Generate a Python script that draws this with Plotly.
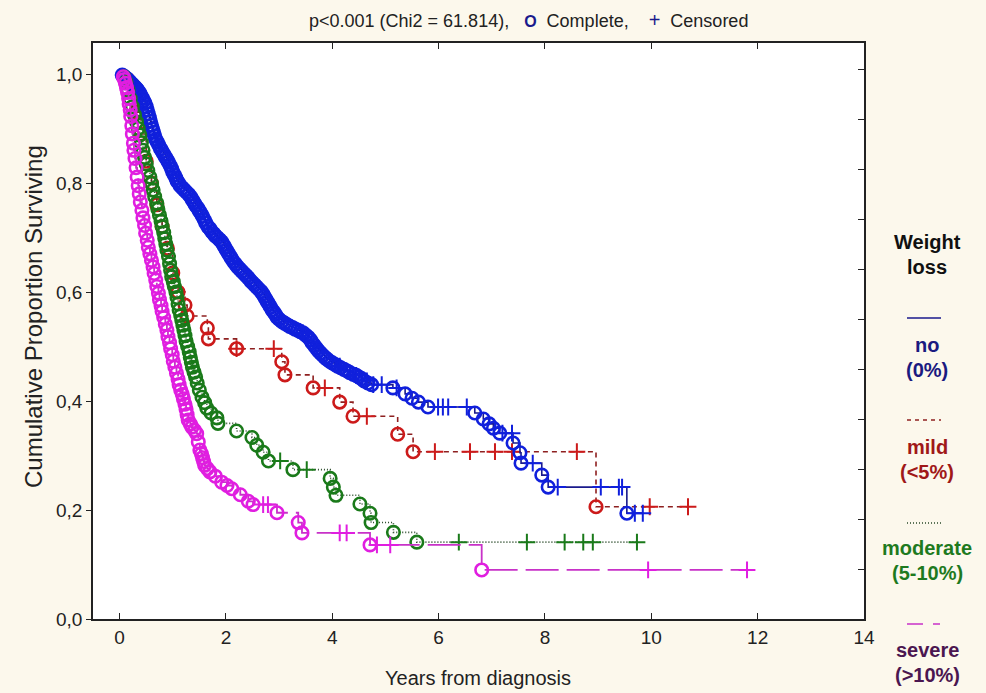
import plotly.graph_objects as go

# ---------------- data ----------------
groups = ["no", "mild", "moderate", "severe"]

no_event_t = [0.05, 0.08, 0.1, 0.13, 0.15, 0.18, 0.2, 0.23, 0.25, 0.28, 0.3, 0.33, 0.35, 0.38, 0.4,
              0.43, 0.45, 0.48, 0.5, 0.52, 0.54, 0.56, 0.58, 0.6, 0.62, 0.64, 0.66, 0.68, 0.71,
              0.74, 0.77, 0.8, 0.83, 0.86, 0.89, 0.92, 0.95, 0.98, 1.0, 1.03, 1.06, 1.08, 1.11,
              1.14, 1.18, 1.22, 1.26, 1.3, 1.34, 1.37, 1.4, 1.43, 1.47, 1.5, 1.53, 1.56, 1.59,
              1.62, 1.66, 1.7, 1.73, 1.77, 1.8, 1.84, 1.88, 1.92, 1.95, 1.98, 2.01, 2.04, 2.07,
              2.1, 2.14, 2.18, 2.22, 2.26, 2.3, 2.34, 2.38, 2.42, 2.46, 2.5, 2.54, 2.58, 2.62,
              2.66, 2.69, 2.72, 2.75, 2.78, 2.81, 2.84, 2.87, 2.9, 2.93, 2.96, 3.0, 3.05, 3.1,
              3.15, 3.2, 3.25, 3.3, 3.35, 3.4, 3.45, 3.5, 3.55, 3.59, 3.62, 3.66, 3.7, 3.74, 3.78,
              3.82, 3.86, 3.9, 3.95, 4.0, 4.05, 4.1, 4.16, 4.22, 4.28, 4.33, 4.4, 4.45, 4.5, 4.55,
              4.6, 4.67, 4.74, 5.14, 5.37, 5.5, 5.62, 5.8, 6.68, 6.84, 6.95, 7.03, 7.15, 7.4, 7.53,
              7.55, 7.94, 8.06, 9.54]
no_event_s = [0.998, 0.996, 0.994, 0.992, 0.99, 0.987, 0.985, 0.982, 0.98, 0.977, 0.975, 0.972,
              0.969, 0.965, 0.961, 0.956, 0.951, 0.946, 0.94, 0.934, 0.927, 0.92, 0.913, 0.906,
              0.899, 0.893, 0.886, 0.88, 0.875, 0.869, 0.863, 0.858, 0.853, 0.848, 0.843, 0.838,
              0.832, 0.826, 0.82, 0.815, 0.809, 0.804, 0.8, 0.795, 0.791, 0.787, 0.783, 0.779,
              0.774, 0.769, 0.764, 0.759, 0.754, 0.749, 0.744, 0.739, 0.733, 0.727, 0.72, 0.716,
              0.711, 0.707, 0.703, 0.7, 0.696, 0.692, 0.687, 0.682, 0.677, 0.672, 0.667, 0.662,
              0.656, 0.651, 0.646, 0.642, 0.638, 0.634, 0.63, 0.626, 0.621, 0.617, 0.613, 0.609,
              0.605, 0.601, 0.597, 0.592, 0.587, 0.582, 0.577, 0.572, 0.567, 0.563, 0.559, 0.554,
              0.55, 0.546, 0.543, 0.54, 0.537, 0.535, 0.532, 0.53, 0.527, 0.525, 0.521, 0.517,
              0.512, 0.507, 0.502, 0.497, 0.492, 0.488, 0.484, 0.48, 0.477, 0.473, 0.47, 0.467,
              0.464, 0.461, 0.458, 0.455, 0.452, 0.449, 0.447, 0.444, 0.441, 0.437, 0.433, 0.43,
              0.424, 0.413, 0.405, 0.398, 0.389, 0.378, 0.367, 0.358, 0.35, 0.341, 0.323, 0.305,
              0.286, 0.264, 0.242, 0.194]
no_censor_t = [3.45, 4.14, 4.45, 4.65, 4.77, 4.93, 5.21, 5.99, 6.08, 6.18, 6.53, 7.2, 7.38, 7.77,
               8.24, 9.05, 9.39, 9.45, 9.69, 9.84]

mild_event_t = [0.15, 0.3, 0.4, 0.5, 0.6, 0.7, 0.8, 0.9, 1.0, 1.1, 1.23, 1.27, 1.65, 1.67, 2.2,
                3.05, 3.11, 3.64, 4.14, 4.39, 5.23, 5.52, 8.96]
mild_event_s = [0.99, 0.93, 0.89, 0.84, 0.80, 0.76, 0.72, 0.68, 0.635, 0.60, 0.576, 0.556, 0.534,
                0.514, 0.496, 0.472, 0.448, 0.424, 0.398, 0.372, 0.339, 0.307, 0.206]
mild_censor_t = [2.2, 2.9, 3.86, 4.65, 5.93, 6.59, 7.06, 7.38, 8.6, 9.97, 10.69]

moderate_event_t = [0.08, 0.12, 0.16, 0.2, 0.24, 0.28, 0.32, 0.35, 0.38, 0.41, 0.44, 0.47, 0.5,
                    0.53, 0.57, 0.6, 0.63, 0.66, 0.7, 0.72, 0.75, 0.78, 0.8, 0.83, 0.85, 0.87,
                    0.89, 0.92, 0.94, 0.96, 0.98, 1.01, 1.03, 1.06, 1.08, 1.1, 1.12, 1.15, 1.17,
                    1.19, 1.21, 1.23, 1.25, 1.28, 1.31, 1.33, 1.35, 1.37, 1.4, 1.43, 1.46, 1.5,
                    1.55, 1.6, 1.64, 1.72, 1.83, 1.85, 2.2, 2.49, 2.58, 2.7, 2.8, 3.26, 3.96, 4.02,
                    4.07, 4.52, 4.71, 4.73, 5.15, 5.59]
moderate_event_s = [0.995, 0.985, 0.97, 0.955, 0.94, 0.925, 0.912, 0.9, 0.888, 0.874, 0.86, 0.847,
                    0.835, 0.823, 0.811, 0.799, 0.787, 0.775, 0.763, 0.752, 0.741, 0.73, 0.72,
                    0.709, 0.698, 0.688, 0.677, 0.665, 0.652, 0.64, 0.628, 0.619, 0.61, 0.6, 0.59,
                    0.578, 0.567, 0.557, 0.548, 0.539, 0.53, 0.52, 0.51, 0.5, 0.49, 0.48, 0.471,
                    0.462, 0.453, 0.444, 0.433, 0.42, 0.407, 0.397, 0.387, 0.378, 0.369, 0.359,
                    0.345, 0.333, 0.319, 0.306, 0.29, 0.274, 0.258, 0.242, 0.227, 0.211, 0.194,
                    0.177, 0.159, 0.141]
moderate_censor_t = [3.02, 3.52, 6.38, 7.66, 8.37, 8.72, 8.9, 9.73]

severe_event_t = [0.07, 0.09, 0.11, 0.13, 0.15, 0.17, 0.18, 0.2, 0.21, 0.23, 0.24, 0.26, 0.27,
                  0.29, 0.31, 0.33, 0.35, 0.37, 0.39, 0.42, 0.44, 0.47, 0.49, 0.52, 0.54, 0.57,
                  0.6, 0.63, 0.65, 0.68, 0.7, 0.73, 0.75, 0.78, 0.8, 0.83, 0.86, 0.89, 0.91, 0.94,
                  0.96, 0.99, 1.01, 1.04, 1.07, 1.1, 1.12, 1.15, 1.18, 1.2, 1.23, 1.25, 1.27, 1.29,
                  1.33, 1.36, 1.41, 1.45, 1.48, 1.51, 1.54, 1.56, 1.58, 1.6, 1.65, 1.7, 1.8, 1.92,
                  2.02, 2.11, 2.27, 2.42, 2.51, 2.96, 3.36, 3.43, 4.71, 6.81]
severe_event_s = [0.995, 0.99, 0.983, 0.975, 0.966, 0.955, 0.945, 0.934, 0.922, 0.905, 0.89,
                  0.873, 0.86, 0.845, 0.828, 0.811, 0.795, 0.78, 0.765, 0.75, 0.736, 0.722,
                  0.708, 0.695, 0.682, 0.67, 0.658, 0.646, 0.634, 0.622, 0.61, 0.598, 0.586,
                  0.575, 0.564, 0.553, 0.541, 0.53, 0.518, 0.507, 0.496, 0.485, 0.473, 0.462,
                  0.451, 0.44, 0.43, 0.42, 0.412, 0.404, 0.394, 0.385, 0.375, 0.365, 0.358, 0.352,
                  0.346, 0.34, 0.325, 0.31, 0.303, 0.296, 0.289, 0.282, 0.276, 0.27, 0.262, 0.251,
                  0.245, 0.239, 0.228, 0.216, 0.21, 0.195, 0.177, 0.158, 0.136, 0.09]
severe_censor_t = [2.7, 2.79, 4.14, 4.27, 4.84, 5.09, 9.94, 11.8]

x_ticks = [0, 2, 4, 6, 8, 10, 12, 14]
y_ticks = [0.0, 0.2, 0.4, 0.6, 0.8, 1.0]

legend_title = ["Weight", "loss"]
legend_labels = [["no", "(0%)"], ["mild", "(<5%)"], ["moderate", "(5-10%)"], ["severe", "(>10%)"]]
title_stats = "p<0.001 (Chi2 = 61.814),"

# ---------------- styles ----------------
FONT = "Liberation Sans, Arial, sans-serif"
BG = "#fcf8ec"
W, H = 986, 693
L, R, T, B = 93, 122, 43, 74
PW, PH = W - L - R, H - T - B

styles = {
    "no": dict(line="#1a1a8c", dash="solid", width=1.6, mk="#1020dc"),
    "mild": dict(line="#8e2020", dash="5px,4px", width=1.6, mk="#cc1a1a"),
    "moderate": dict(line="#2a4a2a", dash="1px,2px", width=1.6, mk="#1a7a1a"),
    "severe": dict(line="#c832c8", dash="33px,8px", width=1.8, mk="#e01ee0"),
}
text_colors = {"no": "#1a1a80", "mild": "#a01818", "moderate": "#1e7a1e", "severe": "#4b1650"}

data = {
    "no": (no_event_t, no_event_s, no_censor_t),
    "mild": (mild_event_t, mild_event_s, mild_censor_t),
    "moderate": (moderate_event_t, moderate_event_s, moderate_censor_t),
    "severe": (severe_event_t, severe_event_s, severe_censor_t),
}


def surv_at(ev_t, ev_s, c):
    s = 1.0
    for t, v in zip(ev_t, ev_s):
        if t <= c:
            s = v
    return s


fig = go.Figure()
draw_order = ["mild", "no", "moderate", "severe"]
for g in draw_order:
    ev_t, ev_s, cen_t = data[g]
    st = styles[g]
    end = max(ev_t + cen_t)
    lx = [0.0] + ev_t + [end]
    ly = [1.0] + ev_s + [ev_s[-1]]
    fig.add_trace(go.Scatter(x=lx, y=ly, mode="lines", line_shape="hv",
                             line=dict(color=st["line"], width=st["width"], dash=st["dash"]),
                             hoverinfo="skip", showlegend=False))
    fig.add_trace(go.Scatter(x=ev_t, y=ev_s, mode="markers",
                             marker=dict(symbol="circle-open", size=12.5, color=st["mk"],
                                         line=dict(width=2.6, color=st["mk"])),
                             showlegend=False))
    cs = [surv_at(ev_t, ev_s, c) for c in cen_t]
    fig.add_trace(go.Scatter(x=cen_t, y=cs, mode="markers",
                             marker=dict(symbol="cross-thin", size=12, color=st["mk"],
                                         line=dict(width=2, color=st["mk"])),
                             showlegend=False))

# dummy trace for right-hand tick axis
fig.add_trace(go.Scatter(x=[], y=[], yaxis="y2", showlegend=False))


def px(xp):
    return (xp - L) / PW


def py(yp):
    return (H - B - yp) / PH


annotations = []
annotations.append(dict(
    x=px(528), y=py(20), xref="paper", yref="paper", showarrow=False,
    xanchor="center", yanchor="middle",
    text=(title_stats + "\u00a0\u00a0\u00a0"
          + '<span style="color:#1a1a8c;font-size:16px"><b>O</b></span>'
          + "\u00a0\u00a0Complete,\u00a0\u00a0\u00a0\u00a0"
          + '<span style="color:#1a1a8c;font-size:20px">+</span>'
          + "\u00a0\u00a0Censored"),
    font=dict(family=FONT, size=18, color="#222222")))
annotations.append(dict(x=px(478), y=py(678), xref="paper", yref="paper", showarrow=False,
                        xanchor="center", yanchor="middle", text="Years from diagnosis",
                        font=dict(family=FONT, size=20, color="#222222")))
annotations.append(dict(x=px(33), y=py(317), xref="paper", yref="paper", showarrow=False,
                        xanchor="center", yanchor="middle", textangle=-90,
                        text="Cumulative Proportion Surviving",
                        font=dict(family=FONT, size=24, color="#222222")))
for i, line in enumerate(legend_title):
    annotations.append(dict(x=px(927), y=py(242 + 25 * i), xref="paper", yref="paper",
                            showarrow=False, xanchor="center", yanchor="middle",
                            text="<b>" + line + "</b>",
                            font=dict(family=FONT, size=20, color="#111111")))
label_y = [345, 447, 548, 650]
sample_y = [318, 420, 523, 624]
shapes = []
for g, lab, ly0, sy in zip(groups, legend_labels, label_y, sample_y):
    for j, line in enumerate(lab):
        annotations.append(dict(x=px(927), y=py(ly0 + 25 * j), xref="paper", yref="paper",
                                showarrow=False, xanchor="center", yanchor="middle",
                                text="<b>" + line + "</b>",
                                font=dict(family=FONT, size=20, color=text_colors[g])))
    dash = {"no": "solid", "mild": "4px,4px", "moderate": "1px,2px",
            "severe": "16px,10px,7px,20px"}[g]
    shapes.append(dict(type="line", xref="paper", yref="paper",
                       x0=px(907), x1=px(941), y0=py(sy), y1=py(sy),
                       line=dict(color=styles[g]["line"], width=1.6, dash=dash)))

fig.update_layout(
    width=W, height=H,
    margin=dict(l=L, r=R, t=T, b=B, autoexpand=False),
    paper_bgcolor=BG, plot_bgcolor="#ffffff",
    separators=", ",
    showlegend=False,
    font=dict(family=FONT, size=19, color="#222222"),
    xaxis=dict(range=[-0.5, 14], tickvals=x_ticks, ticks="inside", ticklen=6, tickwidth=1.3,
               tickcolor="#222", mirror="ticks", showline=True, linecolor="#222", linewidth=1.5,
               showgrid=False, zeroline=False, tickfont=dict(size=19, family=FONT, color="#222")),
    yaxis=dict(range=[0, PH / 545.0], tickvals=y_ticks, tickformat=".1f", ticks="outside",
               ticklen=5, tickwidth=1.3, tickcolor="#222", mirror=True, showline=True,
               linecolor="#222", linewidth=1.5, showgrid=False, zeroline=False,
               tickfont=dict(size=19, family=FONT, color="#222")),
    yaxis2=dict(overlaying="y", side="right", range=[0, PH / 50.0], dtick=1, ticks="inside",
                ticklen=6, tickwidth=1.3, tickcolor="#222", showticklabels=False,
                showgrid=False, zeroline=False, showline=False),
    annotations=annotations,
    shapes=shapes,
)

fig.write_html(
    "out.html",
    config={"displayModeBar": False},
    post_script=("document.body.style.margin='0';"
                 "document.body.style.background='" + BG + "';"),
)
